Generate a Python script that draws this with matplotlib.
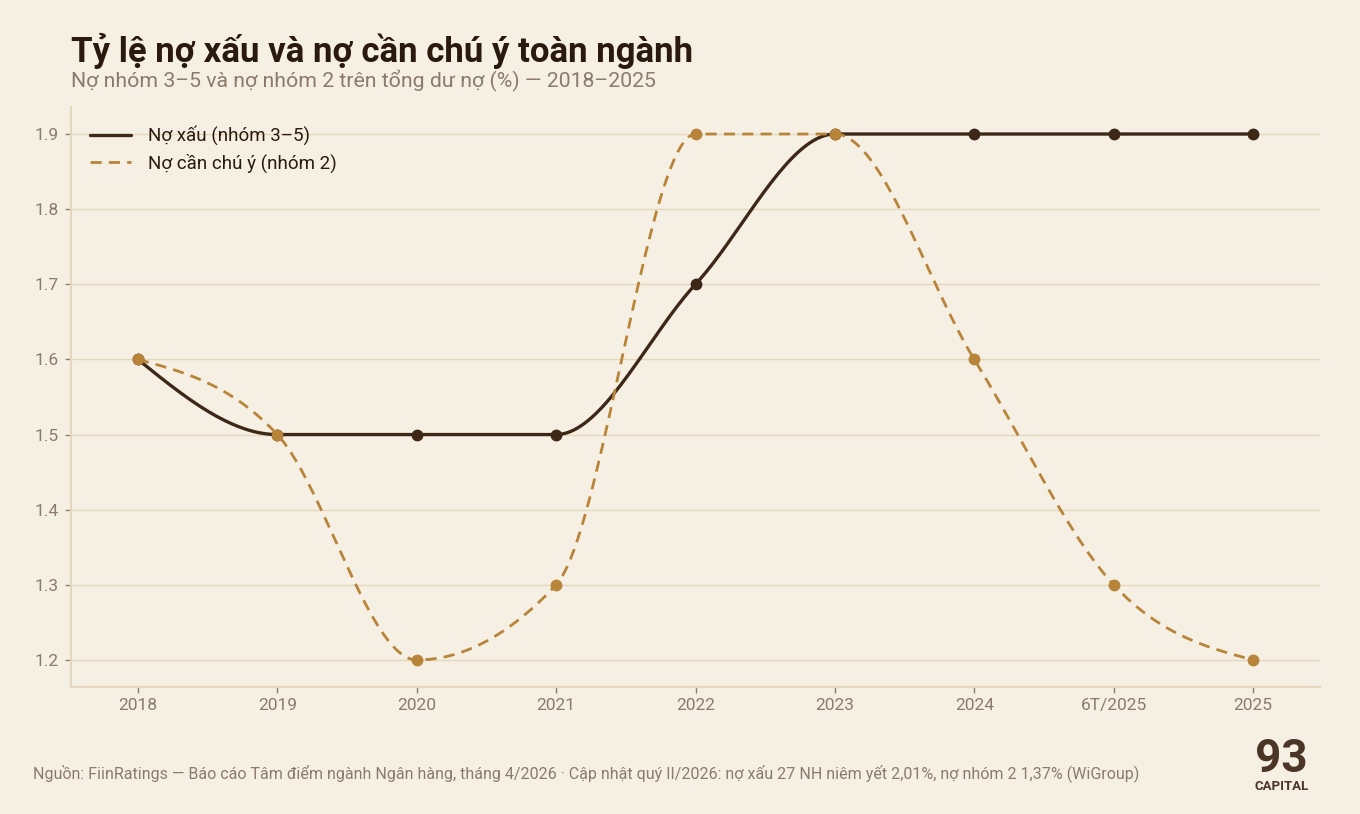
import numpy as np
import matplotlib
matplotlib.use("Agg")
import matplotlib.pyplot as plt

# data
categories = ["2018", "2019", "2020", "2021", "2022", "2023", "2024", "6T/2025", "2025"]
npl = [1.6, 1.5, 1.5, 1.5, 1.7, 1.9, 1.9, 1.9, 1.9]
group2 = [1.6, 1.5, 1.2, 1.3, 1.9, 1.9, 1.6, 1.3, 1.2]
yticks = [1.2, 1.3, 1.4, 1.5, 1.6, 1.7, 1.8, 1.9]

BG = "#f6f0e4"
DARK = "#3d2817"
GOLD = "#b8843a"
GRID = "#e3d7bd"
MUTED = "#8a7b6c"


def monotone_curve(x, y, n=40):
    """Smooth path through the points, same rule as d3.curveMonotoneX."""
    x = np.asarray(x, float)
    y = np.asarray(y, float)
    k = len(x)
    h = np.diff(x)
    s = np.diff(y) / h
    t = np.zeros(k)
    for i in range(1, k - 1):
        p = (s[i - 1] * h[i] + s[i] * h[i - 1]) / (h[i - 1] + h[i])
        t[i] = (np.sign(s[i - 1]) + np.sign(s[i])) * min(abs(s[i - 1]), abs(s[i]), 0.5 * abs(p))
    t[0] = (3 * s[0] - t[1]) / 2
    t[-1] = (3 * s[-1] - t[-2]) / 2
    xs, ys = [], []
    u = np.linspace(0, 1, n)
    for i in range(k - 1):
        dx = h[i] / 3
        px = [x[i], x[i] + dx, x[i + 1] - dx, x[i + 1]]
        py = [y[i], y[i] + dx * t[i], y[i + 1] - dx * t[i + 1], y[i + 1]]
        b = [(1 - u) ** 3, 3 * u * (1 - u) ** 2, 3 * u ** 2 * (1 - u), u ** 3]
        xs.append(sum(bb * pp for bb, pp in zip(b, px)))
        ys.append(sum(bb * pp for bb, pp in zip(b, py)))
    return np.concatenate(xs), np.concatenate(ys)


plt.rcParams["font.family"] = ["Roboto", "DejaVu Sans"]

fig = plt.figure(figsize=(13.6, 8.14), dpi=100, facecolor=BG)
ax = fig.add_axes([0.0522, 0.156, 0.9184, 0.7126], facecolor=BG)

xpos = np.arange(len(categories))

cx, cy = monotone_curve(xpos, npl)
ax.plot(cx, cy, color=DARK, lw=2.4, solid_capstyle="round", label="Nợ xấu (nhóm 3–5)", zorder=3)
ax.plot(xpos, npl, "o", color=DARK, ms=7.5, zorder=4)

gx, gy = monotone_curve(xpos, group2)
ax.plot(gx, gy, color=GOLD, lw=2.0, dashes=(4.0, 2.6), label="Nợ cần chú ý (nhóm 2)", zorder=5)
ax.plot(xpos, group2, "o", color=GOLD, ms=7.5, zorder=6)

ax.set_xlim(-0.48, 8.48)
ax.set_ylim(1.164, 1.936)
ax.set_xticks(xpos)
ax.set_xticklabels(categories)
ax.set_yticks(yticks)
ax.set_yticklabels([f"{v:.1f}" for v in yticks])
ax.yaxis.grid(True, color=GRID, lw=1)
ax.set_axisbelow(True)

for side in ["top", "right"]:
    ax.spines[side].set_visible(False)
for side in ["left", "bottom"]:
    ax.spines[side].set_color(GRID)
    ax.spines[side].set_linewidth(1.6)
ax.tick_params(colors=MUTED, labelcolor=MUTED, labelsize=12.5, length=4, width=1)
ax.tick_params(axis="x", pad=4)
ax.tick_params(axis="y", pad=5)

leg = ax.legend(loc="upper left", bbox_to_anchor=(0.0, 1.0), frameon=False,
                fontsize=13.5, handlelength=2.2, handletextpad=0.9, labelspacing=0.45,
                borderaxespad=0.6)
for txt in leg.get_texts():
    txt.set_color("#2a1a0e")

fig.text(0.0522, 0.938, "Tỷ lệ nợ xấu và nợ cần chú ý toàn ngành", fontsize=25,
         fontweight="bold", color="#2a1a0e", va="center", ha="left")
fig.text(0.0522, 0.901, "Nợ nhóm 3–5 và nợ nhóm 2 trên tổng dư nợ (%) — 2018–2025",
         fontsize=15.3, color=MUTED, va="center", ha="left")
fig.text(0.0243, 0.0505,
         "Nguồn: FiinRatings — Báo cáo Tâm điểm ngành Ngân hàng, tháng 4/2026 · "
         "Cập nhật quý II/2026: nợ xấu 27 NH niêm yết 2,01%, nợ nhóm 2 1,37% (WiGroup)",
         fontsize=11.5, color=MUTED, va="center", ha="left")

# logo
fig.text(0.9425, 0.0515, "93", fontsize=33, fontweight="bold", color="#4a3526",
         ha="center", va="baseline")
fig.text(0.9425, 0.0295, "CAPITAL", fontsize=9.5, fontweight="bold", color="#4a3526",
         ha="center", va="baseline")

fig.savefig("out.png", dpi=100, facecolor=BG)
